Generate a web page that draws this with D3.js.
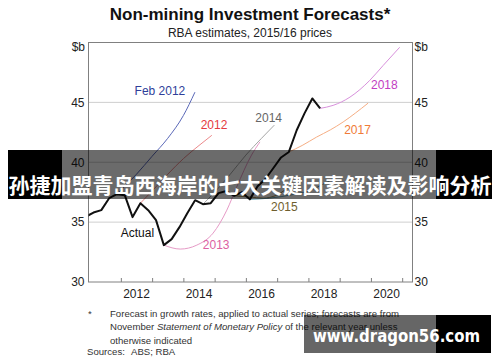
<!DOCTYPE html>
<html>
<head>
<meta charset="utf-8">
<script src="https://cdn.jsdelivr.net/npm/d3@7"></script>
<style>
  body { margin: 0; background: #fff; }
  svg { font-family: "Liberation Sans", Arial, sans-serif; display: block; }
</style>
</head>
<body>
<div id="box-chart"></div>
<script>
// axis ticks and labels
const yearTicks = [2012, 2013, 2014, 2015, 2016, 2017, 2018, 2019, 2020, 2021];
const yearLabels = [2012, 2014, 2016, 2018, 2020];
const valueTicks = [30, 35, 40, 45];

// actual series, mid-quarter points
const actualYears = [2010.875, 2011.125, 2011.375, 2011.625, 2011.875, 2012.125, 2012.375, 2012.625,
  2012.875, 2013.125, 2013.375, 2013.625, 2013.875, 2014.125, 2014.375, 2014.625, 2014.875,
  2015.125, 2015.375, 2015.625, 2015.875, 2016.125, 2016.375, 2016.625, 2016.875, 2017.125,
  2017.375, 2017.625, 2017.875, 2018.125, 2018.375];
const actualValues = [35.45, 35.8, 36.0, 37.0, 37.33, 37.25, 35.42, 36.58,
  36.0, 35.17, 33.08, 33.58, 34.58, 35.75, 36.83, 36.5, 36.58,
  37.42, 37.6, 37.2, 37.5, 36.9, 38.0, 38.6, 39.5, 40.4,
  40.86, 42.67, 44.08, 45.33, 44.5];

// forecasts
const feb2012Years = [2011.875, 2012.5, 2013.0, 2013.5, 2014.0, 2014.37];
const feb2012Values = [37.33, 39.0, 40.5, 42.0, 43.9, 45.85];
const f2012Years = [2012.625, 2013.0, 2013.5, 2014.0, 2014.5, 2014.91];
const f2012Values = [36.58, 37.6, 39.0, 40.3, 41.4, 42.25];
const f2013Years = [2013.375, 2013.9, 2014.43, 2014.95, 2015.39, 2015.7, 2016.18, 2016.45];
const f2013Values = [33.08, 32.75, 33.08, 34.08, 36.0, 37.9, 40.6, 41.7];
const f2014Years = [2014.625, 2015.0, 2015.5, 2016.0, 2016.5, 2016.91];
const f2014Values = [36.5, 37.5, 39.0, 40.6, 42.0, 43.1];
const f2015Years = [2015.625, 2016.13, 2016.55, 2016.98, 2017.4];
const f2015Values = [37.2, 37.1, 37.0, 37.25, 38.0];
const f2016Years = [2016.125, 2016.75, 2017.5, 2018.0, 2018.3, 2018.9];
const f2016Values = [36.9, 37.0, 37.3, 37.6, 37.94, 38.78];
const f2017Years = [2017.375, 2017.8, 2018.26, 2018.7, 2019.11, 2019.5, 2019.91];
const f2017Values = [40.86, 41.4, 42.1, 42.7, 43.36, 44.1, 44.94];
const f2018Years = [2018.375, 2018.79, 2019.33, 2019.96, 2020.39, 2020.92];
const f2018Values = [44.5, 44.75, 45.44, 46.83, 48.08, 49.6];

const width = 500, height = 362;
const margin = { top: 42.5, right: 87.5, bottom: 80, left: 88.5 };

const x_scale = d3.scaleLinear()
  .domain([2010.965, 2021.33])
  .range([margin.left, width - margin.right]);
const y_scale = d3.scaleLinear()
  .domain([30, 50])
  .range([height - margin.bottom, margin.top]);

const svg = d3.select('#box-chart').append('svg')
  .attr('width', width)
  .attr('height', height);

// titles
svg.append('text').attr('x', 250).attr('y', 20).attr('text-anchor', 'middle')
  .attr('font-size', 17).attr('font-weight', 'bold').attr('fill', '#111')
  .text('Non-mining Investment Forecasts*');
svg.append('text').attr('x', 250).attr('y', 37).attr('text-anchor', 'middle')
  .attr('font-size', 12).attr('fill', '#222')
  .text('RBA estimates, 2015/16 prices');

// gridlines
svg.append('g').selectAll('line')
  .data(valueTicks.filter((d) => d > 30))
  .enter().append('line')
  .attr('x1', margin.left).attr('x2', width - margin.right)
  .attr('y1', (d) => y_scale(d)).attr('y2', (d) => y_scale(d))
  .attr('stroke', '#cfcfcf').attr('stroke-width', 1);

// left and right axes
const axisL = svg.append('g')
  .attr('transform', 'translate(' + margin.left + ',0)')
  .call(d3.axisLeft(y_scale).tickValues(valueTicks).tickSize(0).tickPadding(4));
const axisR = svg.append('g')
  .attr('transform', 'translate(' + (width - margin.right) + ',0)')
  .call(d3.axisRight(y_scale).tickValues(valueTicks).tickSize(0).tickPadding(2));
[axisL, axisR].forEach((a) => {
  a.select('.domain').remove();
  a.selectAll('text').attr('font-size', 12).attr('font-family', '"Liberation Sans", Arial, sans-serif').attr('fill', '#222');
});
svg.append('text').attr('x', 85).attr('y', 51).attr('text-anchor', 'end')
  .attr('font-size', 12).attr('fill', '#222').text('$b');
svg.append('text').attr('x', 414.5).attr('y', 51)
  .attr('font-size', 12).attr('fill', '#222').text('$b');

// bottom axis: ticks at year boundaries, labels mid-year
const axisB = svg.append('g')
  .attr('transform', 'translate(0,' + (height - margin.bottom) + ')')
  .call(d3.axisBottom(x_scale).tickValues(yearTicks).tickSize(-4).tickFormat(''));
axisB.select('.domain').remove();
axisB.selectAll('line').attr('stroke', '#7f7f7f');
svg.append('g').selectAll('text')
  .data(yearLabels)
  .enter().append('text')
  .attr('x', (d) => x_scale(d + 0.5))
  .attr('y', 298)
  .attr('text-anchor', 'middle')
  .attr('font-size', 12).attr('fill', '#222')
  .text((d) => d);

// frame
svg.append('rect')
  .attr('x', margin.left).attr('y', margin.top)
  .attr('width', width - margin.left - margin.right)
  .attr('height', height - margin.top - margin.bottom)
  .attr('fill', 'none').attr('stroke', '#808080').attr('stroke-width', 1);

svg.append('clipPath').attr('id', 'plot-clip')
  .append('rect')
  .attr('x', margin.left).attr('y', margin.top)
  .attr('width', width - margin.left - margin.right)
  .attr('height', height - margin.top - margin.bottom);

const smooth = d3.line()
  .x((d) => x_scale(d[0]))
  .y((d) => y_scale(d[1]))
  .curve(d3.curveMonotoneX);
const straight = d3.line()
  .x((d) => x_scale(d[0]))
  .y((d) => y_scale(d[1]));

const forecasts = [
  { years: feb2012Years, values: feb2012Values, color: '#5a68b8' },
  { years: f2012Years, values: f2012Values, color: '#ec8a8c' },
  { years: f2013Years, values: f2013Values, color: '#e69ac6' },
  { years: f2014Years, values: f2014Values, color: '#a6a6a6' },
  { years: f2015Years, values: f2015Values, color: '#9a8650' },
  { years: f2016Years, values: f2016Values, color: '#6aa0b0' },
  { years: f2017Years, values: f2017Values, color: '#f6ae84' },
  { years: f2018Years, values: f2018Values, color: '#d890dc' }
];

const plot = svg.append('g').attr('clip-path', 'url(#plot-clip)');
forecasts.map((item) => {
  plot.append('path')
    .datum(d3.zip(item.years, item.values))
    .attr('d', smooth)
    .attr('fill', 'none')
    .attr('stroke', item.color)
    .attr('stroke-width', 1);
});
plot.append('path')
  .datum(d3.zip(actualYears, actualValues))
  .attr('d', straight)
  .attr('fill', 'none')
  .attr('stroke', '#111')
  .attr('stroke-width', 2)
  .attr('stroke-linejoin', 'round');

// series labels
const seriesLabels = [
  { text: 'Feb 2012', year: 2013.25, value: 46.0, color: '#2f3f9a' },
  { text: '2012', year: 2014.98, value: 43.14, color: '#e53a40' },
  { text: '2014', year: 2016.73, value: 43.69, color: '#666666' },
  { text: '2013', year: 2015.05, value: 33.08, color: '#dd5fa2' },
  { text: '2015', year: 2017.23, value: 36.27, color: '#6f5e2e' },
  { text: 'Actual', year: 2012.53, value: 34.1, color: '#111111' },
  { text: '2017', year: 2019.57, value: 42.67, color: '#f07b38' },
  { text: '2018', year: 2020.43, value: 46.47, color: '#c23cc2' }
];
svg.append('g').selectAll('text')
  .data(seriesLabels)
  .enter().append('text')
  .attr('x', (d) => x_scale(d.year))
  .attr('y', (d) => y_scale(d.value))
  .attr('dy', '0.35em')
  .attr('text-anchor', 'middle')
  .attr('font-size', 12)
  .attr('fill', (d) => d.color)
  .text((d) => d.text);

// footnote
const foot = svg.append('g').attr('font-size', 9.6).attr('fill', '#333');
foot.append('text').attr('x', 88).attr('y', 317).text('*');
foot.append('text').attr('x', 110).attr('y', 316.5).text('Forecast in growth rates, applied to actual series; forecasts are from');
const l2 = foot.append('text').attr('x', 110).attr('y', 330);
l2.append('tspan').text('November ');
l2.append('tspan').attr('font-style', 'italic').text('Statement of Monetary Policy');
l2.append('tspan').text(' of the relevant year unless');
foot.append('text').attr('x', 110).attr('y', 343.5).text('otherwise indicated');
foot.append('text').attr('x', 87).attr('y', 355).text('Sources:');
foot.append('text').attr('x', 131).attr('y', 355).text('ABS; RBA');

// overlay banner
svg.append('rect').attr('x', 8).attr('y', 150).attr('width', 54).attr('height', 49).attr('fill', '#000');
svg.append('rect').attr('x', 62).attr('y', 150).attr('width', 374).attr('height', 49).attr('fill', '#000').attr('opacity', 0.58);
svg.append('rect').attr('x', 436).attr('y', 150).attr('width', 56).attr('height', 49).attr('fill', '#000');
svg.append('text').attr('x', 250).attr('y', 193).attr('text-anchor', 'middle')
  .attr('font-family', '"Noto Sans CJK SC", sans-serif')
  .attr('font-size', 21).attr('font-weight', 'bold').attr('fill', '#fff')
  .text('孙捷加盟青岛西海岸的七大关键因素解读及影响分析');

// watermark
svg.append('rect').attr('x', 304).attr('y', 315).attr('width', 132).attr('height', 38).attr('fill', '#000').attr('opacity', 0.6);
svg.append('rect').attr('x', 436).attr('y', 315).attr('width', 55).attr('height', 38).attr('fill', '#000');
svg.append('text').attr('x', 313).attr('y', 342)
  .attr('font-family', '"DejaVu Sans", sans-serif')
  .attr('font-size', 18).attr('font-weight', 'bold').attr('fill', '#fff')
  .attr('textLength', 167).attr('lengthAdjust', 'spacingAndGlyphs')
  .text('www.dragon56.com');
</script>
</body>
</html>
